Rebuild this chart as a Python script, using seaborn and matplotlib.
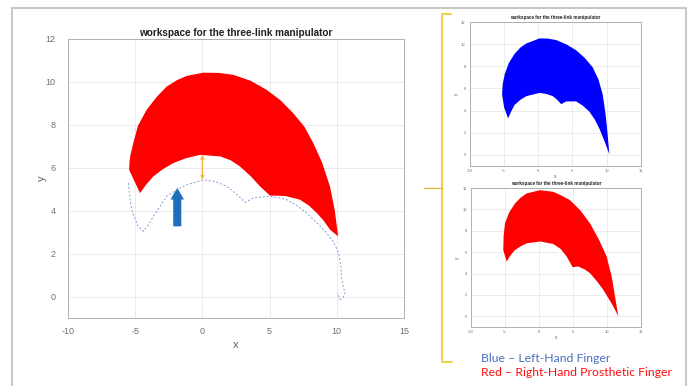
import matplotlib.pyplot as plt
import seaborn as sns
import pandas as pd
from matplotlib.patches import Rectangle, FancyArrow
from matplotlib.lines import Line2D

# main plot: right-hand workspace (red band) and dotted outline of the full workspace
main_outer_x = [-4.64, -5.45, -5.42, -5.35, -5.14, -4.8, -4.15, -3.4, -2.66, -1.9, -1.17, 0.07, 1.2, 2.3, 3.6, 4.78, 5.8, 6.76, 7.6, 8.25, 8.9, 9.49, 9.85, 10.1]
main_outer_y = [4.82, 5.9, 6.3, 6.6, 7.15, 7.95, 8.7, 9.3, 9.78, 10.08, 10.28, 10.43, 10.42, 10.33, 10.05, 9.63, 9.15, 8.54, 7.9, 7.15, 6.25, 5.13, 4.0, 2.8]
main_inner_x = [-4.64, -4.2, -3.65, -2.9, -2.16, -1.2, -0.18, 1.31, 2.1, 2.8, 3.6, 4.29, 5.03, 5.6, 6.27, 7.26, 7.9, 8.5, 9.0, 9.49, 10.1]
main_inner_y = [4.82, 5.2, 5.6, 5.95, 6.22, 6.45, 6.6, 6.53, 6.35, 6.06, 5.6, 5.13, 4.7, 4.7, 4.67, 4.51, 4.25, 3.9, 3.55, 3.12, 2.8]
dotted_x = [-5.51, -5.4, -5.26, -5.0, -4.77, -4.4, -4.0, -3.65, -3.1, -2.66, -1.9, -1.17, 0.07, 1.0, 1.8, 2.5, 3.17, 3.79, 4.78, 5.6, 6.27, 7.0, 7.76, 8.5, 9.25, 9.8, 10.12, 10.3, 10.36, 10.6, 10.45, 10.24, 10.04]
dotted_y = [5.29, 4.6, 4.05, 3.6, 3.27, 3.04, 3.35, 3.73, 4.25, 4.67, 4.98, 5.2, 5.44, 5.35, 5.13, 4.8, 4.39, 4.59, 4.67, 4.62, 4.51, 4.25, 3.89, 3.45, 2.96, 2.5, 2.03, 1.4, 0.79, 0.17, -0.05, -0.14, 0.17]

# small plot, top: left-hand finger (blue)
blue_outer_x = [-4.42, -5.0, -5.29, -5.2, -4.9, -4.3, -3.45, -2.6, -1.75, 0.19, 1.4, 2.62, 4.1, 5.53, 6.8, 7.96, 8.8, 9.42, 9.85, 10.15, 10.39]
blue_outer_y = [3.3, 4.3, 5.45, 6.4, 7.3, 8.3, 9.14, 9.7, 10.06, 10.52, 10.5, 10.37, 9.98, 9.45, 8.75, 7.9, 6.8, 5.45, 3.6, 1.75, 0.06]
blue_inner_x = [-4.42, -3.9, -3.45, -2.6, -1.75, 0.19, 1.2, 2.14, 2.8, 3.35, 4.08, 5.53, 6.5, 7.48, 8.3, 8.93, 9.7, 10.39]
blue_inner_y = [3.3, 4.0, 4.52, 4.98, 5.3, 5.6, 5.5, 5.3, 4.95, 4.58, 4.83, 4.83, 4.45, 3.9, 3.15, 2.37, 1.2, 0.06]

# small plot, bottom: right-hand prosthetic finger (red)
red_outer_x = [-4.75, -5.25, -5.2, -5.0, -4.4, -3.53, -2.7, -1.8, 0.15, 2.1, 3.3, 4.56, 6.1, 7.5, 8.8, 9.95, 10.7, 11.18, 11.67]
red_outer_y = [5.12, 6.2, 7.5, 8.7, 9.7, 10.56, 11.1, 11.5, 11.8, 11.65, 11.3, 10.87, 9.9, 8.7, 7.2, 5.6, 3.7, 1.86, 0.0]
red_inner_x = [-4.75, -4.2, -3.53, -2.7, -1.8, 0.15, 2.1, 3.2, 4.07, 4.95, 5.78, 6.7, 7.5, 8.5, 9.46, 10.3, 10.93, 11.67]
red_inner_y = [5.12, 5.7, 6.2, 6.55, 6.83, 7.0, 6.77, 6.3, 5.6, 4.6, 4.66, 4.4, 4.04, 3.3, 2.48, 1.6, 0.93, 0.0]

x_ticks = [-10, -5, 0, 5, 10, 15]
y_ticks = [0, 2, 4, 6, 8, 10, 12]
title = 'workspace for the three-link manipulator'

sns.set_style('whitegrid')
plt.rcParams['font.family'] = ['Liberation Sans', 'DejaVu Sans']
plt.rcParams['axes.unicode_minus'] = False

fig = plt.figure(figsize=(6.91, 3.86), dpi=100)


def band(xo, yo, xi, yi):
    return xo + xi[-2:0:-1], yo + yi[-2:0:-1]


def style_axes(ax, fs, title_fs, lab_fs, xpad, ypad, xlpad, ylpad):
    ax.set_xlim(-10, 15)
    ax.set_ylim(-1, 12)
    ax.set_xticks(x_ticks)
    ax.set_yticks(y_ticks)
    ax.grid(True, color='#e8e8e8', lw=0.6)
    for s in ax.spines.values():
        s.set_color('#b0b0b0')
        s.set_linewidth(0.7)
    ax.tick_params(labelsize=fs, colors='#707070', length=0)
    ax.tick_params(axis='x', pad=xpad)
    ax.tick_params(axis='y', pad=ypad)
    ax.set_title(title, fontsize=title_fs, fontweight='bold', color='#202020', pad=2)
    ax.set_xlabel('x', fontsize=lab_fs, color='#606060', labelpad=xlpad)
    ax.set_ylabel('y', fontsize=lab_fs, color='#606060', labelpad=ylpad)


# main chart
ax = fig.add_axes([0.0984, 0.1762, 0.4863, 0.7228])
style_axes(ax, 6.5, 7.2, 8, 6.5, 9, 3, -1)
dot = pd.DataFrame({'x': dotted_x, 'y': dotted_y})
sns.lineplot(data=dot, x='x', y='y', sort=False, ax=ax, color='#8a98d0',
             lw=0.7, linestyle=(0, (2, 2)), estimator=None)
px, py = band(main_outer_x, main_outer_y, main_inner_x, main_inner_y)
ax.fill(px, py, color='#ff0000', lw=0)
ax.annotate('', xy=(0, 6.6), xytext=(0, 5.45),
            arrowprops=dict(arrowstyle='<->', color='#f2b440', lw=1.0,
                            shrinkA=0, shrinkB=0, mutation_scale=5))
ax.add_patch(FancyArrow(-1.87, 3.27, 0, 1.8, width=0.6, head_width=1.0,
                        head_length=0.55, length_includes_head=True,
                        color='#1a6fb8', lw=0))

# top small chart
ax1 = fig.add_axes([0.680, 0.570, 0.2475, 0.373])
style_axes(ax1, 3, 3.3, 3.5, 2, 3, 1, 1.5)
bx, by = band(blue_outer_x, blue_outer_y, blue_inner_x, blue_inner_y)
ax1.fill(bx, by, color='#0000ff', lw=0)

# bottom small chart
ax2 = fig.add_axes([0.6816, 0.1528, 0.246, 0.360])
style_axes(ax2, 3, 3.3, 3.5, 2, 3, 1, 1.5)
rx, ry = band(red_outer_x, red_outer_y, red_inner_x, red_inner_y)
ax2.fill(rx, ry, color='#ff0000', lw=0)

# slide frame and bracket
fig.add_artist(Rectangle((12 / 691, -0.02), 674 / 691, 1 - 8 / 386 + 0.02,
                         transform=fig.transFigure, fill=False,
                         ec='#c8c8c8', lw=1.5))
bx0 = 442 / 691
fig.add_artist(Line2D([451 / 691, bx0, bx0, 452 / 691],
                      [1 - 14 / 386, 1 - 14 / 386, 1 - 362 / 386, 1 - 362 / 386],
                      transform=fig.transFigure, color='#f3c83a', lw=1.3))
fig.add_artist(Line2D([424 / 691, bx0], [1 - 188 / 386, 1 - 188 / 386],
                      transform=fig.transFigure, color='#e8b84a', lw=1.0))

fig.text(481 / 691, 1 - 358 / 386, 'Blue \u2013 Left-Hand Finger', color='#4a6fc0',
         fontsize=8.8, family=['Lato', 'DejaVu Sans'], va='center')
fig.text(481 / 691, 1 - 373 / 386, 'Red \u2013 Right-Hand Prosthetic Finger', color='#ff1010',
         fontsize=8.8, family=['Lato', 'DejaVu Sans'], va='center')

fig.savefig('out.png', dpi=100)
